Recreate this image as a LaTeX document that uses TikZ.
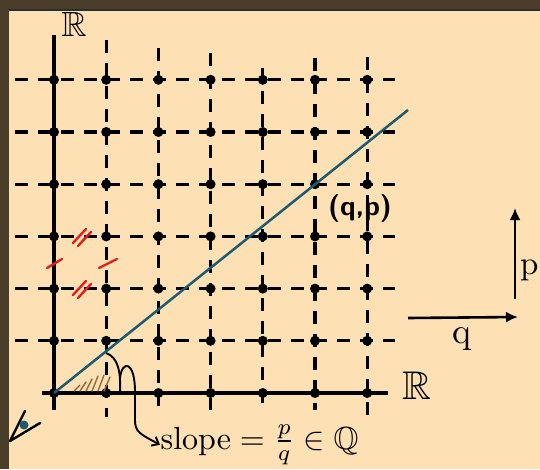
\documentclass[tikz,border=0pt]{standalone}
\usepackage{amssymb}
\usetikzlibrary{arrows.meta}
\definecolor{paper}{RGB}{253,224,179}
\definecolor{framebrown}{RGB}{74,62,43}
\definecolor{rimline}{RGB}{40,46,50}
\definecolor{slopeline}{RGB}{30,90,112}
\definecolor{tickred}{RGB}{222,32,30}
\definecolor{hatchbrown}{RGB}{150,105,55}
\tikzset{
 gridline/.style={line width=3.2pt,dash pattern=on 13pt off 10pt},
 axis/.style={line width=3.2pt},
 tick/.style={tickred,line width=2.4pt,line cap=round},
 hatch/.style={hatchbrown,line width=1.4pt,line cap=round},
 arrow/.style={-{Latex[length=12pt,width=11pt]},line width=2.6pt},
 curvearrow/.style={-{Straight Barb[length=6pt,width=10pt]},line width=1.9pt},
 label/.style={inner sep=0pt}
}

\begin{document}
\begin{tikzpicture}[x=1pt,y=-1pt]
\useasboundingbox (0,0) rectangle (540,469);
\fill[framebrown] (0,0) rectangle (540,469);
\fill[paper] (9,11) rectangle (540,469);
\draw[rimline,line width=2pt] (9,10) -- (540,10);

\foreach \i in {0,...,6}
  \foreach \j in {0,...,6}
    \coordinate (g\i\j) at ({54+52.2*\i},{393-52.2*\j});

\foreach \j in {1,...,6}
  \draw[gridline] (15,{393-52.2*\j}) -- (395,{393-52.2*\j});
\foreach \i/\t/\b in {1/40/417,2/48/415,3/53/410,4/68/410,5/58/410,6/57/415}
  \draw[gridline] ({54+52.2*\i},\t) -- ({54+52.2*\i},\b);

\draw[axis] (54,35) -- (54,410);
\draw[axis] (42,393) -- (388,393);

\foreach \i in {0,...,6}
  \foreach \j in {0,...,6}
    \fill (g\i\j) circle (5pt);

\coordinate (lineend) at (408,110);
\draw[slopeline,line width=2.5pt] (g00) -- (lineend);

\foreach \x/\h in {74/6,80/9,86/12,92/15,98/16,104/14}
  \draw[hatch] (\x,391) -- ++(6,-\h);

\draw[tick] (73,243) -- (86,229);
\draw[tick] (78,246) -- (91,232);
\draw[tick] (73,295) -- (86,281);
\draw[tick] (78,298) -- (91,284);
\draw[tick] (47,268) -- (62,259);
\draw[tick] (99,268) -- (117,259);

\node[label,scale=3.5] (rtop) at (74,24) {$\mathbb{R}$};
\node[label,scale=4] (rright) at (417,386) {$\mathbb{R}$};
\node[label,scale=2.8,font=\sffamily\bfseries] (qp) at (360,208) {(q,p)};

\node[label,scale=3.2,anchor=base west] (slope) at (160,449)
  {slope${}=\frac{p}{q}\in\mathbb{Q}$};

\coordinate (angtop) at (106,353);
\coordinate (angbot) at (120,392);
\coordinate (loopstart) at (120,378);
\draw[line width=1.9pt] (angtop) .. controls (118,357) and (121,372) .. (angbot);
\draw[curvearrow] (loopstart) .. controls (122,360) and (135,360) .. (135,392)
  -- (135,420) .. controls (135,432) and (140,434) .. (slope.west);

\coordinate (qstart) at (408,318);
\coordinate (qend) at (518,317);
\coordinate (pstart) at (515,299);
\coordinate (pend) at (515,208);
\draw[arrow] (qstart) -- (qend);
\draw[arrow] (pstart) -- (pend);
\node[label,scale=3.6,anchor=base] (qlab) at (462,343) {q};
\node[label,scale=3.3,anchor=base east] (plab) at (539,274) {p};

\draw[line width=2.4pt,line cap=round,line join=round] (25,411) -- (10,441) -- (40,423);
\fill[slopeline] (24,425) circle (4.5pt);
\end{tikzpicture}
\end{document}
